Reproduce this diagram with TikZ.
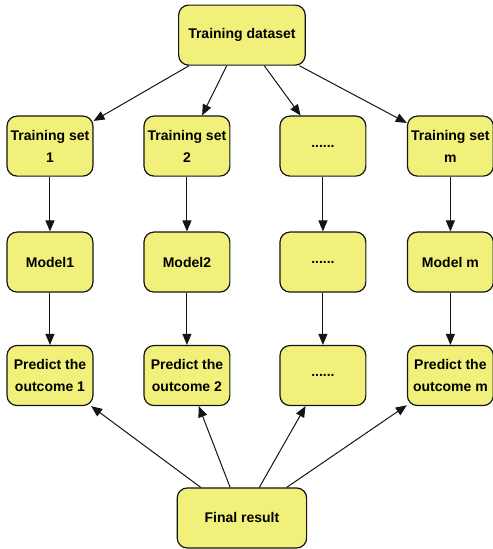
\documentclass[tikz,border=0pt]{standalone}
\usepackage{fontspec}
\setmainfont{Liberation Sans}
\usetikzlibrary{arrows.meta}
\definecolor{boxfill}{RGB}{240, 240, 122}
\definecolor{boxline}{RGB}{20, 20, 20}

\begin{document}
\begin{tikzpicture}[
    font=\bfseries\fontsize{14}{22}\selectfont,
    block/.style={draw=boxline, fill=boxfill, line width=1.2pt, rounded corners=10pt,
                  align=center, inner sep=1pt, minimum width=3.02cm, minimum height=2.11cm},
    wideblock/.style={block, minimum width=4.45cm},
    link/.style={-{Triangle[length=11pt, width=9pt]}, line width=1pt, draw=boxline}
]
    \useasboundingbox (0, 0) rectangle (17.33, 19.30);

    % Source
    \node[wideblock] (data) at (8.505, 18.065) {Training dataset};

    % Training subsets
    \node[block] (set1) at (1.757, 14.164) {Training set\\1};
    \node[block] (set2) at (6.572, 14.164) {Training set\\2};
    \node[block] (setx) at (11.352, 14.164) {......};
    \node[block] (setm) at (15.833, 14.164) {Training set\\m};

    % Models
    \node[block] (model1) at (1.757, 10.087) {Model1};
    \node[block] (model2) at (6.572, 10.087) {Model2};
    \node[block] (modelx) at (11.352, 10.087) {......};
    \node[block] (modelm) at (15.833, 10.087) {Model m};

    % Predictions
    \node[block] (pred1) at (1.757, 6.098) {Predict the\\outcome 1};
    \node[block] (pred2) at (6.572, 6.098) {Predict the\\outcome 2};
    \node[block] (predx) at (11.352, 6.098) {......};
    \node[block] (predm) at (15.833, 6.098) {Predict the\\outcome m};

    % Combined
    \node[wideblock, minimum width=4.55cm] (final) at (8.505, 1.090) {Final result};

    \draw[link] (data) -- (set1);
    \draw[link] (data) -- (set2);
    \draw[link] (data) -- (setx);
    \draw[link] (data) -- (setm);

    \draw[link] (set1) -- (model1);
    \draw[link] (set2) -- (model2);
    \draw[link] (setx) -- (modelx);
    \draw[link] (setm) -- (modelm);

    \draw[link] (model1) -- (pred1);
    \draw[link] (model2) -- (pred2);
    \draw[link] (modelx) -- (predx);
    \draw[link] (modelm) -- (predm);

    \draw[link] (final) -- (pred1);
    \draw[link] (final) -- (pred2);
    \draw[link] (final) -- (predx);
    \draw[link] (final) -- (predm);
\end{tikzpicture}
\end{document}
